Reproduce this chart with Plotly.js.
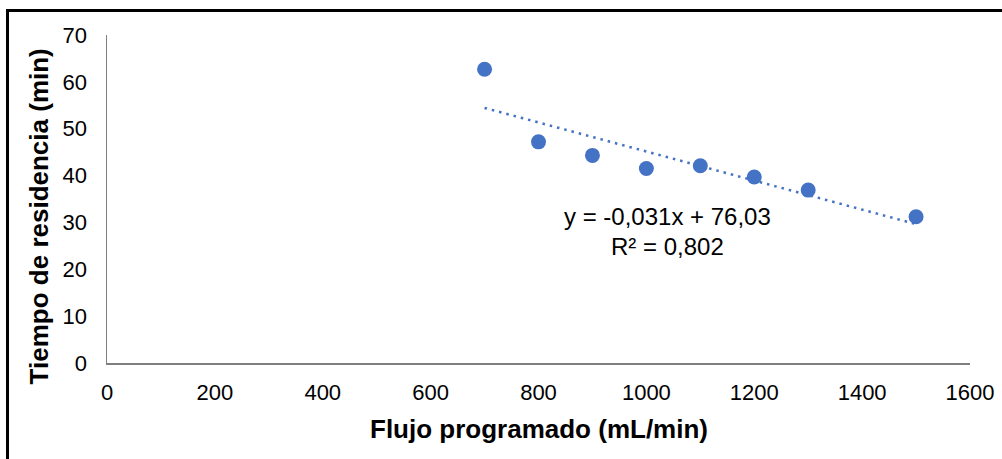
<!DOCTYPE html>
<html>
<head>
<meta charset="utf-8">
<script src="https://cdn.plot.ly/plotly-3.0.1.min.js"></script>
<style>
  html, body { margin: 0; padding: 0; background: #fff; }
  #wrap { position: relative; width: 1002px; height: 459px; overflow: hidden; }
  #chart { width: 1002px; height: 459px; }
  #frame { position: absolute; left: 6px; top: 9px; width: 1200px; height: 600px;
           border-left: 3px solid #000; border-top: 3px solid #000; pointer-events: none; }
</style>
</head>
<body>
<div id="wrap">
  <div id="chart"></div>
  <div id="frame"></div>
</div>
<script>
// Data
const flujo = [700, 800, 900, 1000, 1100, 1200, 1300, 1500];
const tiempo = [62.7, 47.2, 44.3, 41.5, 42.1, 39.7, 36.9, 31.2];
const xTicks = [0, 200, 400, 600, 800, 1000, 1200, 1400, 1600];
const yTicks = [0, 10, 20, 30, 40, 50, 60, 70];
const xTitle = "Flujo programado (mL/min)";
const yTitle = "Tiempo de residencia (min)";
const eqText = "y = -0,031x + 76,03";
const r2Text = "R² = 0,802";

// Linear least-squares trendline from the data
const n = flujo.length;
const mx = flujo.reduce((a, b) => a + b, 0) / n;
const my = tiempo.reduce((a, b) => a + b, 0) / n;
let sxy = 0, sxx = 0;
for (let i = 0; i < n; i++) { sxy += (flujo[i] - mx) * (tiempo[i] - my); sxx += (flujo[i] - mx) ** 2; }
const slope = sxy / sxx;
const intercept = my - slope * mx;
const xMin = Math.min(...flujo), xMax = Math.max(...flujo);
const trendX = [xMin, xMax];
const trendY = trendX.map(x => intercept + slope * x);

const blue = '#4472C4';
const font = 'Liberation Sans, Arial, sans-serif';

const traces = [
  { x: trendX, y: trendY, type: 'scatter', mode: 'lines',
    line: { color: blue, width: 2.5, dash: '2.5px,5px' }, hoverinfo: 'skip', showlegend: false },
  { x: flujo, y: tiempo, type: 'scatter', mode: 'markers',
    marker: { color: blue, size: 15 }, showlegend: false }
];

const layout = {
  width: 1002, height: 459,
  margin: { l: 107, r: 32, t: 35, b: 96 },
  paper_bgcolor: '#fff', plot_bgcolor: '#fff',
  font: { family: font, color: '#000' },
  xaxis: {
    range: [0, 1600], tickvals: xTicks, ticktext: xTicks.map(String),
    showgrid: false, zeroline: false, showline: true, linecolor: '#7f7f7f', linewidth: 1.5,
    ticks: '', ticklen: 0, ticklabelstandoff: 9, tickfont: { size: 22, family: font, color: '#000' }
  },
  yaxis: {
    range: [0, 70], tickvals: yTicks, ticktext: yTicks.map(String),
    showgrid: false, zeroline: false, showline: true, linecolor: '#7f7f7f', linewidth: 1.5,
    ticks: '', ticklen: 0, ticklabelstandoff: 14, tickfont: { size: 22, family: font, color: '#000' }
  },
  annotations: [
    { x: 1040, y: 31.2, xref: 'x', yref: 'y', text: eqText, showarrow: false,
      font: { size: 24, family: font, color: '#000' }, xanchor: 'center', yanchor: 'middle' },
    { x: 1040, y: 24.8, xref: 'x', yref: 'y', text: r2Text, showarrow: false,
      font: { size: 24, family: font, color: '#000' }, xanchor: 'center', yanchor: 'middle' },
    { x: 0.5, y: -0.2, xref: 'paper', yref: 'paper', text: '<b>' + xTitle + '</b>', showarrow: false,
      font: { size: 26, family: font, color: '#000' }, xanchor: 'center', yanchor: 'middle' },
    { x: -0.0788, y: 0.447, xref: 'paper', yref: 'paper', text: '<b>' + yTitle + '</b>', showarrow: false,
      textangle: -90, font: { size: 26, family: font, color: '#000' }, xanchor: 'center', yanchor: 'middle' }
  ]
};

Plotly.newPlot('chart', traces, layout, { displayModeBar: false, staticPlot: true });
</script>
</body>
</html>
